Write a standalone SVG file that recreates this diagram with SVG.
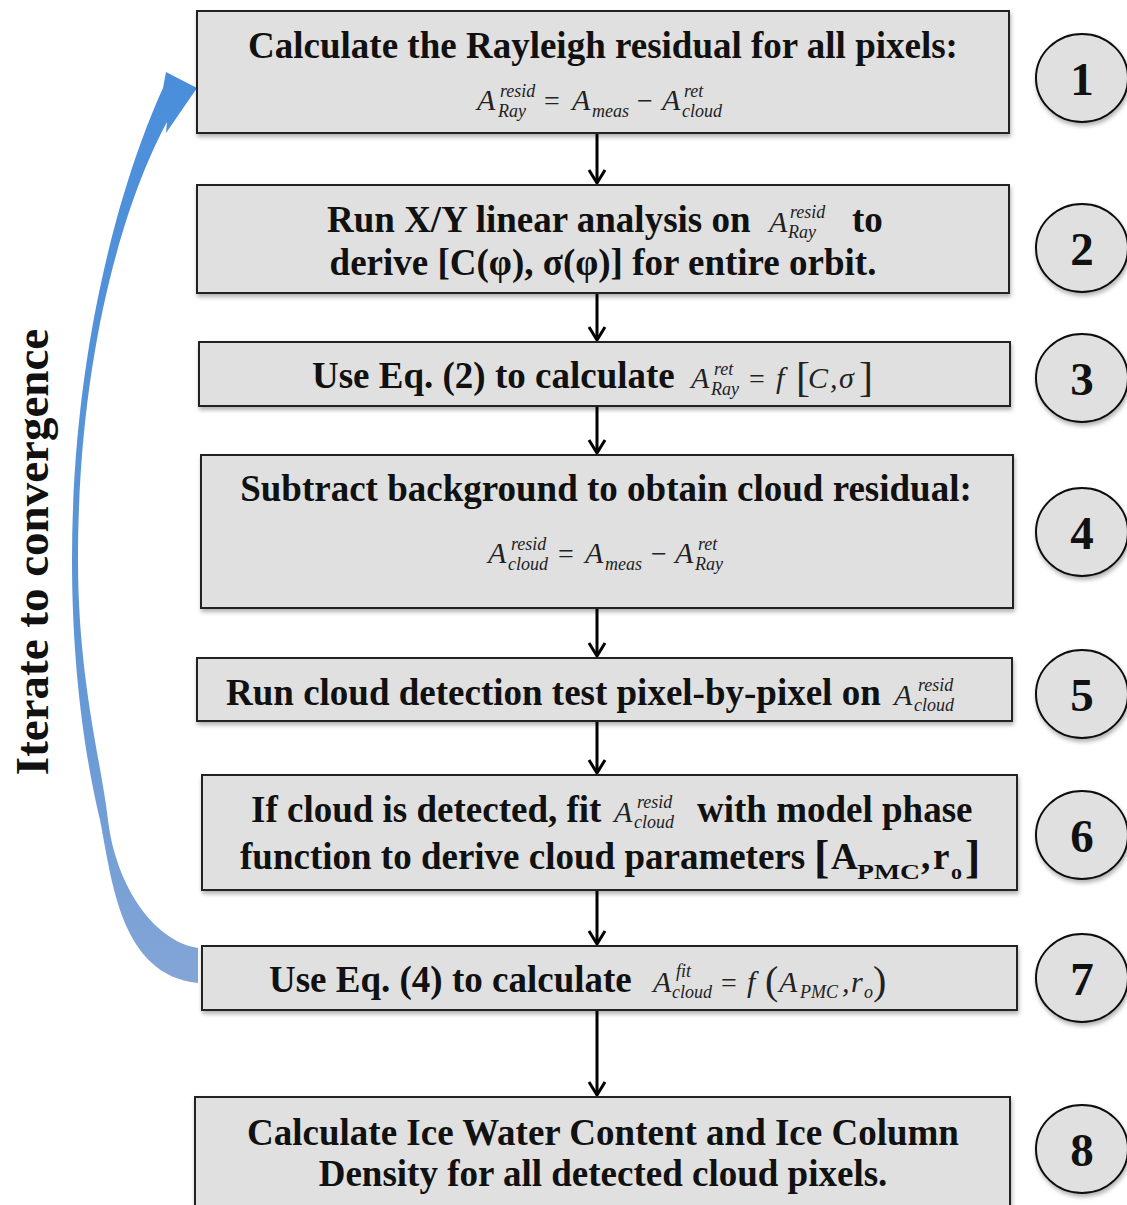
<svg xmlns="http://www.w3.org/2000/svg" width="1127" height="1205" viewBox="0 0 1127 1205">
<defs>
<style>
.box{fill:#e0e0e0;stroke:#222;stroke-width:2;filter:url(#sh)}
.circ{fill:#e0e0e0;stroke:#111;stroke-width:2;filter:url(#sh)}
.t{font-family:"Liberation Serif","Times New Roman",serif;font-weight:bold;font-size:37px;fill:#111}
.num{font-family:"Liberation Serif","Times New Roman",serif;font-weight:bold;font-size:47px;fill:#111;text-anchor:middle}
.m{font-family:"Liberation Serif","Times New Roman",serif;font-style:italic;font-size:30px;fill:#222}
.s{font-family:"Liberation Serif","Times New Roman",serif;font-style:italic;font-size:18px;fill:#222}
.op{font-family:"Liberation Serif","Times New Roman",serif;font-size:28px;fill:#222}
.conn{stroke:#000;stroke-width:3;fill:none;marker-end:url(#arr)}
</style>
<filter id="sh" x="-10%" y="-10%" width="120%" height="130%">
<feDropShadow dx="1" dy="3" stdDeviation="2" flood-color="#000" flood-opacity="0.3"/>
</filter>
<marker id="arr" viewBox="-14 -10 16 20" refX="0" refY="0" markerWidth="16" markerHeight="20" markerUnits="userSpaceOnUse" orient="auto">
<path d="M-13,-8 L0,0 L-13,8" fill="none" stroke="#000" stroke-width="3"/>
</marker>
<linearGradient id="bg" gradientUnits="userSpaceOnUse" x1="0" y1="70" x2="0" y2="985">
<stop offset="0" stop-color="#4a8edb"/>
<stop offset="0.6" stop-color="#5d96d6"/>
<stop offset="1" stop-color="#84a5d6"/>
</linearGradient>
</defs>

<g id="loop">
<path d="M163,88 C130,160 72,330 72,560 C72,680 88,770 100,820 C112,880 120,975 198,983 L198,948 C150,940 115,880 108,820 C101,760 78,680 78,560 C78,340 130,190 167,122 L166,133 L197,88 L166,72 Z" fill="url(#bg)"/>
<text class="t" text-anchor="middle" transform="translate(48,552) rotate(-90)" style="font-size:47px">Iterate to convergence</text>
</g>

<g id="connectors">
<line class="conn" x1="597" y1="134" x2="597" y2="183"/>
<line class="conn" x1="597" y1="294" x2="597" y2="340"/>
<line class="conn" x1="597" y1="407" x2="597" y2="453"/>
<line class="conn" x1="597" y1="609" x2="597" y2="656"/>
<line class="conn" x1="597" y1="722" x2="597" y2="773"/>
<line class="conn" x1="597" y1="891" x2="597" y2="944"/>
<line class="conn" x1="597" y1="1011" x2="597" y2="1095"/>
</g>

<g id="node1">
<rect class="box" x="197" y="11" width="812" height="122"/>
<text class="t" x="603" y="58" text-anchor="middle">Calculate the Rayleigh residual for all pixels:</text>
<text class="m" x="477" y="110">A</text><text class="s" x="500" y="97">resid</text><text class="s" x="498" y="117">Ray</text>
<text class="op" x="544" y="110">=</text>
<text class="m" x="572" y="110">A</text><text class="s" x="592" y="117">meas</text>
<text class="op" x="637" y="110">−</text>
<text class="m" x="662" y="110">A</text><text class="s" x="684" y="97">ret</text><text class="s" x="682" y="117">cloud</text>
</g>
<g id="num1"><ellipse class="circ" cx="1082" cy="78" rx="46" ry="44"/><text class="num" x="1082" y="95">1</text></g>

<g id="node2">
<rect class="box" x="197" y="185" width="812" height="108"/>
<text class="t" x="327" y="232">Run X/Y linear analysis on</text>
<text class="m" x="769" y="232">A</text><text class="s" x="790" y="218">resid</text><text class="s" x="788" y="238">Ray</text>
<text class="t" x="852" y="232">to</text>
<text class="t" x="603" y="275" text-anchor="middle">derive [C(φ), σ(φ)] for entire orbit.</text>
</g>
<g id="num2"><ellipse class="circ" cx="1082" cy="248" rx="46" ry="44"/><text class="num" x="1082" y="265">2</text></g>

<g id="node3">
<rect class="box" x="199" y="342" width="811" height="64"/>
<text class="t" x="312" y="388">Use Eq. (2) to calculate</text>
<text class="m" x="691" y="388">A</text><text class="s" x="714" y="375">ret</text><text class="s" x="711" y="395">Ray</text>
<text class="op" x="749" y="388">=</text>
<text class="m" x="776" y="388">f</text>
<text class="op" x="796" y="391" style="font-size:42px">[</text>
<text class="m" x="808" y="388">C</text>
<text class="m" x="830" y="388">,</text>
<text class="m" x="839" y="388">σ</text>
<text class="op" x="859" y="391" style="font-size:42px">]</text>
</g>
<g id="num3"><ellipse class="circ" cx="1082" cy="378" rx="46" ry="44"/><text class="num" x="1082" y="395">3</text></g>

<g id="node4">
<rect class="box" x="201" y="455" width="812" height="153"/>
<text class="t" x="606" y="501" text-anchor="middle">Subtract background to obtain cloud residual:</text>
<text class="m" x="488" y="563">A</text><text class="s" x="511" y="550">resid</text><text class="s" x="508" y="570">cloud</text>
<text class="op" x="558" y="563">=</text>
<text class="m" x="585" y="563">A</text><text class="s" x="605" y="570">meas</text>
<text class="op" x="651" y="563">−</text>
<text class="m" x="675" y="563">A</text><text class="s" x="698" y="550">ret</text><text class="s" x="695" y="570">Ray</text>
</g>
<g id="num4"><ellipse class="circ" cx="1082" cy="532" rx="46" ry="44"/><text class="num" x="1082" y="549">4</text></g>

<g id="node5">
<rect class="box" x="197" y="658" width="815" height="63"/>
<text class="t" x="226" y="705">Run cloud detection test pixel-by-pixel on</text>
<text class="m" x="894" y="705">A</text><text class="s" x="918" y="691">resid</text><text class="s" x="914" y="711">cloud</text>
</g>
<g id="num5"><ellipse class="circ" cx="1082" cy="694" rx="46" ry="44"/><text class="num" x="1082" y="711">5</text></g>

<g id="node6">
<rect class="box" x="202" y="775" width="815" height="115"/>
<text class="t" x="251" y="822">If cloud is detected, fit</text>
<text class="m" x="614" y="822">A</text><text class="s" x="637" y="808">resid</text><text class="s" x="634" y="828">cloud</text>
<text class="t" x="697" y="822">with model phase</text>
<text class="t" x="240" y="869">function to derive cloud parameters</text>
<text class="t" x="814" y="872" style="font-size:46px">[</text>
<text class="t" x="831" y="869">A</text>
<text class="t" x="857" y="879" style="font-size:22px" textLength="63" lengthAdjust="spacingAndGlyphs">PMC</text>
<text class="t" x="921" y="869">,</text>
<text class="t" x="933" y="869">r</text>
<text class="t" x="951" y="879" style="font-size:22px">o</text>
<text class="t" x="965" y="872" style="font-size:46px">]</text>
</g>
<g id="num6"><ellipse class="circ" cx="1082" cy="835" rx="46" ry="44"/><text class="num" x="1082" y="852">6</text></g>

<g id="node7">
<rect class="box" x="202" y="946" width="815" height="64"/>
<text class="t" x="269" y="992">Use Eq. (4) to calculate</text>
<text class="m" x="653" y="992">A</text><text class="s" x="676" y="977">fit</text><text class="s" x="672" y="998">cloud</text>
<text class="op" x="721" y="992">=</text>
<text class="m" x="747" y="992">f</text>
<text class="op" x="765" y="994" style="font-size:40px">(</text>
<text class="m" x="779" y="992">A</text><text class="s" x="800" y="998">PMC</text>
<text class="m" x="842" y="992">,</text>
<text class="m" x="851" y="992">r</text><text class="s" x="864" y="998">o</text>
<text class="op" x="873" y="994" style="font-size:40px">)</text>
</g>
<g id="num7"><ellipse class="circ" cx="1082" cy="978" rx="46" ry="44"/><text class="num" x="1082" y="995">7</text></g>

<g id="node8">
<rect class="box" x="195" y="1097" width="815" height="118"/>
<text class="t" x="603" y="1145" text-anchor="middle">Calculate Ice Water Content and Ice Column</text>
<text class="t" x="603" y="1186" text-anchor="middle">Density for all detected cloud pixels.</text>
</g>
<g id="num8"><ellipse class="circ" cx="1082" cy="1149" rx="46" ry="44"/><text class="num" x="1082" y="1166">8</text></g>
</svg>
